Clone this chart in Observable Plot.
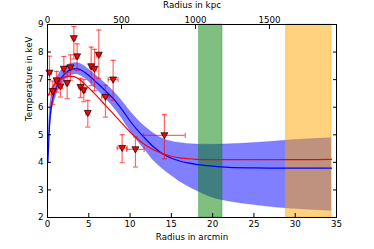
<!DOCTYPE html>
<html><head><meta charset="utf-8">
<script src="https://cdn.jsdelivr.net/npm/d3@7"></script>
<script src="https://cdn.jsdelivr.net/npm/@observablehq/plot@0.6"></script>
<style>html,body{margin:0;padding:0;background:#fff;overflow:hidden}</style>
</head><body><div id="chart"></div>
<script>
// model grid (arcmin)
const modelR = [0.05, 0.2, 0.5, 1, 1.5, 2, 2.5, 3, 3.5, 4, 5, 6, 7, 8, 9, 10, 11, 12, 13, 14, 15, 16, 17, 18, 20, 22, 25, 28, 31, 34.4];
const blueT  = [4.0, 5.1, 6.1, 6.65, 6.98, 7.18, 7.31, 7.38, 7.4, 7.36, 7.15, 6.88, 6.6, 6.3, 5.92, 5.5, 5.13, 4.81, 4.52, 4.3, 4.15, 4.05, 3.98, 3.93, 3.86, 3.82, 3.8, 3.79, 3.79, 3.79];
const blueHi = [4.1, 5.5, 6.45, 6.95, 7.25, 7.42, 7.53, 7.59, 7.6, 7.57, 7.37, 7.12, 6.86, 6.58, 6.23, 5.85, 5.52, 5.25, 5.02, 4.85, 4.76, 4.7, 4.67, 4.65, 4.64, 4.66, 4.7, 4.77, 4.83, 4.88];
const blueLo = [3.9, 4.7, 5.75, 6.35, 6.72, 6.95, 7.09, 7.17, 7.2, 7.15, 6.93, 6.63, 6.33, 6.0, 5.6, 5.15, 4.75, 4.38, 4.02, 3.75, 3.52, 3.31, 3.13, 2.98, 2.72, 2.58, 2.45, 2.35, 2.29, 2.24];
const redT   = [6.42, 6.5, 6.68, 6.88, 7.0, 7.08, 7.12, 7.12, 7.08, 6.98, 6.7, 6.4, 6.07, 5.75, 5.42, 5.1, 4.82, 4.6, 4.43, 4.31, 4.22, 4.16, 4.13, 4.11, 4.1, 4.1, 4.1, 4.1, 4.1, 4.11];

// measured profile
const obsR   = [0.24, 0.64, 1.09, 1.57, 1.98, 2.38, 2.78, 3.19, 3.59, 4.0, 4.4, 4.88, 5.29, 5.69, 6.21, 7.02, 7.95, 9.04, 10.65, 14.16];
const obsRerr= [0.24, 0.2, 0.22, 0.24, 0.2, 0.2, 0.2, 0.2, 0.2, 0.2, 0.2, 0.24, 0.2, 0.2, 0.26, 0.45, 0.6, 0.6, 1.05, 2.52];
const obsT   = [7.25, 6.58, 6.97, 6.75, 7.39, 6.87, 7.44, 8.5, 7.84, 6.73, 6.61, 5.79, 7.48, 7.39, 7.9, 6.37, 7.0, 4.52, 4.47, 4.98];
const obsThi = [7.85, 6.95, 7.3, 7.03, 7.84, 7.27, 7.9, 8.93, 8.3, 7.05, 7.0, 6.25, 8.18, 8.1, 8.8, 6.8, 7.7, 5.0, 4.92, 5.73];
const obsTlo = [6.45, 6.1, 6.55, 6.37, 6.91, 6.31, 6.98, 7.75, 7.33, 6.35, 6.2, 5.28, 6.78, 6.6, 7.04, 5.64, 6.25, 3.99, 3.83, 4.13];

// shaded radial ranges (arcmin)
const greenRange = [18.35, 21.2];
const orangeRange = [28.9, 34.4];

// axes
const xTicks = [0, 5, 10, 15, 20, 25, 30, 35];
const yTicks = [2, 3, 4, 5, 6, 7, 8, 9];
const kpcTicks = [0, 500, 1000, 1500];
const kpcPerArcmin = 55.8;

const model = modelR.map((r, i) => ({r, t: blueT[i], hi: blueHi[i], lo: blueLo[i], red: redT[i]}));
const obs = obsR.map((r, i) => ({r, re: obsRerr[i], t: obsT[i], hi: obsThi[i], lo: obsTlo[i]}));

const triDown = {draw(ctx, size) { const r = Math.sqrt(size / Math.PI); ctx.moveTo(-r, -r * 0.75); ctx.lineTo(r, -r * 0.75); ctx.lineTo(0, r); ctx.closePath(); }};
const hCap = {draw(ctx, size) { const r = Math.sqrt(size / Math.PI); ctx.moveTo(-r, 0); ctx.lineTo(r, 0); }};
const vCap = {draw(ctx, size) { const r = Math.sqrt(size / Math.PI); ctx.moveTo(0, -r); ctx.lineTo(0, r); }};

const errColor = "#ff0000";
const font = "DejaVu Sans";

const chart = Plot.plot({
  width: 374, height: 249,
  marginLeft: 47, marginRight: 38, marginTop: 24, marginBottom: 32,
  style: {fontFamily: font, fontSize: "8.7px", background: "#fff", color: "#000"},
  x: {domain: [0, 35]},
  y: {domain: [2, 9]},
  marks: [
    Plot.areaY(model, {x: "r", y1: "lo", y2: "hi", fill: "#0000ff", fillOpacity: 0.5, stroke: "#0000ff", strokeOpacity: 0.3, strokeWidth: 0.5, curve: "monotone-x"}),
    Plot.rect([greenRange], {x1: d => d[0], x2: d => d[1], fill: "#008000", fillOpacity: 0.5, stroke: "#008000", strokeOpacity: 0.3}),
    Plot.rect([orangeRange], {x1: d => d[0], x2: d => d[1], fill: "#ffa500", fillOpacity: 0.5, stroke: "#ffa500", strokeOpacity: 0.4}),
    Plot.line(model, {x: "r", y: "t", stroke: "#0000ff", strokeWidth: 1.2, curve: "monotone-x"}),
    Plot.line(model, {x: "r", y: "red", stroke: "#ff0000", strokeWidth: 1.2, curve: "monotone-x"}),
    // error bars
    Plot.ruleX(obs, {x: "r", y1: "lo", y2: "hi", stroke: errColor, strokeOpacity: 0.6, strokeWidth: 1.2}),
    Plot.ruleY(obs, {y: "t", x1: d => d.r - d.re, x2: d => d.r + d.re, stroke: errColor, strokeOpacity: 0.6, strokeWidth: 1.2}),
    Plot.dot(obs, {x: "r", y: "hi", symbol: hCap, r: 2.6, fill: "none", stroke: errColor, strokeOpacity: 0.6, strokeWidth: 1.2}),
    Plot.dot(obs, {x: "r", y: "lo", symbol: hCap, r: 2.6, fill: "none", stroke: errColor, strokeOpacity: 0.6, strokeWidth: 1.2}),
    Plot.dot(obs, {x: d => d.r - d.re, y: "t", symbol: vCap, r: 2.6, fill: "none", stroke: errColor, strokeOpacity: 0.6, strokeWidth: 1.2}),
    Plot.dot(obs, {x: d => d.r + d.re, y: "t", symbol: vCap, r: 2.6, fill: "none", stroke: errColor, strokeOpacity: 0.6, strokeWidth: 1.2}),
    Plot.dot(obs, {x: "r", y: "t", symbol: triDown, r: 3.5, fill: "#ff0000", stroke: "#000", strokeWidth: 0.7}),
    Plot.frame({stroke: "#000", strokeWidth: 1}),
    // axes
    Plot.axisX({anchor: "bottom", ticks: xTicks, tickSize: -4, tickPadding: 7, tickFormat: d => String(d), label: null}),
    Plot.axisX({anchor: "top", ticks: kpcTicks.map(k => k / kpcPerArcmin), tickSize: -4, tickPadding: 6, tickFormat: d => String(Math.round(d * kpcPerArcmin)), label: null}),
    Plot.axisY({anchor: "left", ticks: yTicks, tickSize: -4, tickPadding: 8, tickFormat: d => String(d), label: null}),
    Plot.axisY({anchor: "right", ticks: yTicks, tickSize: -4, tickFormat: () => "", label: null}),
    Plot.text(["Radius in arcmin"], {text: d => d, frameAnchor: "bottom", dy: 20, lineAnchor: "middle"}),
    Plot.text(["Radius in kpc"], {text: d => d, frameAnchor: "top", dy: -19, lineAnchor: "middle"}),
    Plot.text(["Temperature in keV"], {text: d => d, frameAnchor: "left", dx: -18, rotate: -90, lineAnchor: "middle"})
  ]
});
document.getElementById("chart").appendChild(chart);
</script></body></html>
